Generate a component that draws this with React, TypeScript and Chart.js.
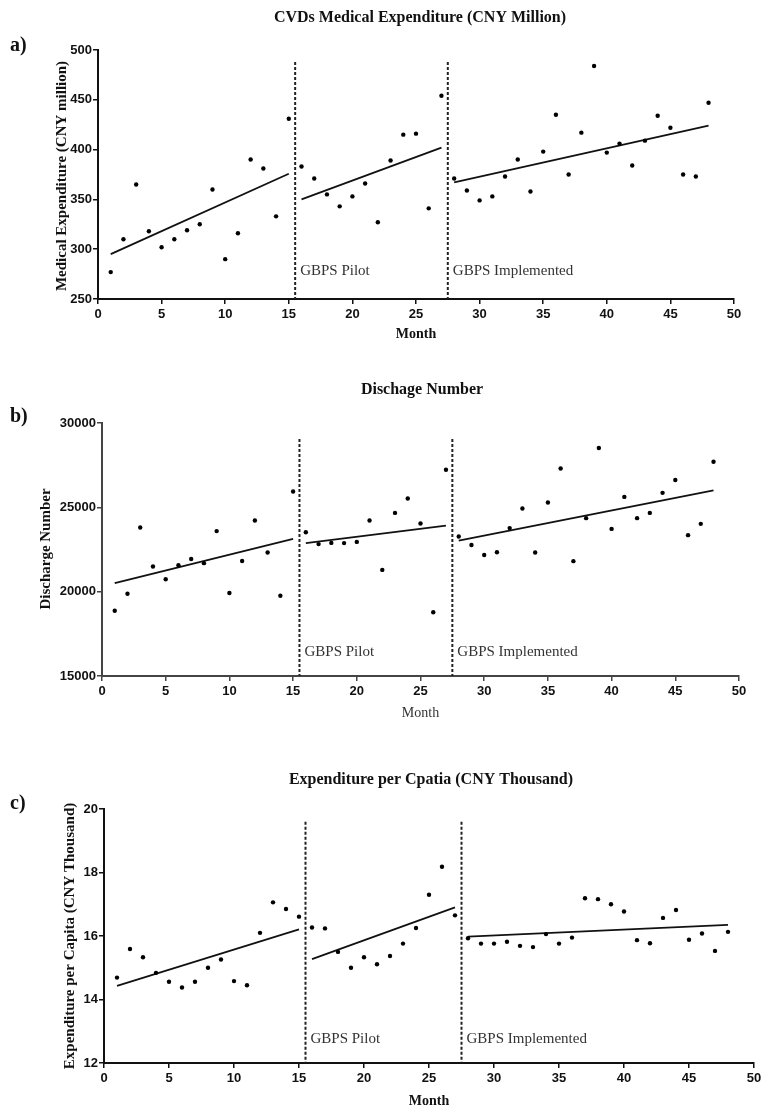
import React, { useEffect, useRef } from "react";
import { Chart, registerables } from "chart.js";

Chart.register(...registerables);

// ---------------- data ----------------
const months = [
  1, 2, 3, 4, 5, 6, 7, 8, 9, 10, 11, 12, 13, 14, 15, 16, 17, 18, 19, 20, 21, 22, 23, 24,
  25, 26, 27, 28, 29, 30, 31, 32, 33, 34, 35, 36, 37, 38, 39, 40, 41, 42, 43, 44, 45, 46, 47, 48,
];

const medicalExpenditure = [
  277, 310, 365, 318, 302, 310, 319, 325, 360, 290, 316, 390, 381, 333, 431, 383,
  371, 355, 343, 353, 366, 327, 389, 415, 416, 341, 454, 371, 359, 349, 353, 373,
  390, 358, 398, 435, 375, 417, 484, 397, 406, 384, 409, 434, 422, 375, 373, 447,
];

const dischargeNumber = [
  18870, 19880, 23800, 21490, 20740, 21570, 21940, 21690, 23590, 19920, 21820, 24220,
  22320, 19760, 25940, 23520, 22820, 22890, 22880, 22950, 24220, 21290, 24670, 25520,
  24040, 18780, 27230, 23270, 22770, 22170, 22340, 23770, 24930, 22320, 25290, 27300,
  21810, 24360, 28520, 23720, 25620, 24360, 24670, 25860, 26620, 23350, 24020, 27700,
];

const expenditurePerCapita = [
  14.69, 15.59, 15.33, 14.84, 14.56, 14.38, 14.56, 15.0, 15.26, 14.58, 14.45, 16.1,
  17.06, 16.85, 16.61, 16.27, 16.24, 15.5, 15.0, 15.33, 15.11, 15.37, 15.76, 16.25,
  17.3, 18.18, 16.65, 15.93, 15.76, 15.76, 15.82, 15.69, 15.65, 16.06, 15.76, 15.95,
  17.19, 17.16, 17.0, 16.77, 15.87, 15.77, 16.57, 16.82, 15.88, 16.08, 15.53, 16.13,
];

// fitted segment end months (pre-pilot, pilot, implemented)
const fitStartMonths = [1, 16, 28];
const fitEndMonths = [15, 27, 48];
const medicalFitStart = [295, 350, 367];
const medicalFitEnd = [375.7, 402, 424];
const dischargeFitStart = [20500, 22875, 23030];
const dischargeFitEnd = [23130, 23920, 26000];
const perCapitaFitStart = [14.43, 15.27, 15.98];
const perCapitaFitEnd = [16.21, 16.9, 16.35];

const interventionMonths = [15.5, 27.5];
const interventionLabels = ["GBPS Pilot", "GBPS Implemented"];

const xRange = [0, 50];
const xStep = 5;
const medicalRange = [250, 500];
const medicalStep = 50;
const dischargeRange = [15000, 30000];
const dischargeStep = 5000;
const perCapitaRange = [12, 20];
const perCapitaStep = 2;

// ---------------- layout (page coordinates) ----------------
type PanelCfg = {
  top: number;
  height: number;
  plotTop: number;
  plotBottom: number;
  plotLeft: number;
  plotRight: number;
  values: number[];
  fitStart: number[];
  fitEnd: number[];
  yRange: number[];
  yStep: number;
  dashTop: number;
  title: string;
  titleX: number;
  titleY: number;
  letter: string;
  letterY: number;
  yTitle: string;
  yTitleX: number;
  yTitleY: number;
  xTitleY: number;
  xTitleBold: boolean;
  gbpsY: number;
  axisColor: string;
};

const panels: PanelCfg[] = [
  {
    top: 0, height: 345, plotTop: 50, plotBottom: 299, plotLeft: 98, plotRight: 734,
    values: medicalExpenditure, fitStart: medicalFitStart, fitEnd: medicalFitEnd,
    yRange: medicalRange, yStep: medicalStep, dashTop: 488,
    title: "CVDs Medical Expenditure (CNY Million)", titleX: 420, titleY: 18,
    letter: "a)", letterY: 46,
    yTitle: "Medical Expenditure (CNY million)", yTitleX: 62, yTitleY: 176,
    xTitleY: 334, xTitleBold: true, gbpsY: 271, axisColor: "#111",
  },
  {
    top: 355, height: 365, plotTop: 423, plotBottom: 676, plotLeft: 102, plotRight: 739,
    values: dischargeNumber, fitStart: dischargeFitStart, fitEnd: dischargeFitEnd,
    yRange: dischargeRange, yStep: dischargeStep, dashTop: 29050,
    title: "Dischage Number", titleX: 422, titleY: 390,
    letter: "b)", letterY: 417,
    yTitle: "Discharge Number", yTitleX: 46, yTitleY: 549,
    xTitleY: 713, xTitleBold: false, gbpsY: 652, axisColor: "#444",
  },
  {
    top: 760, height: 354, plotTop: 809, plotBottom: 1063, plotLeft: 104, plotRight: 754,
    values: expenditurePerCapita, fitStart: perCapitaFitStart, fitEnd: perCapitaFitEnd,
    yRange: perCapitaRange, yStep: perCapitaStep, dashTop: 19.6,
    title: "Expenditure per Cpatia (CNY Thousand)", titleX: 431, titleY: 780,
    letter: "c)", letterY: 804,
    yTitle: "Expenditure per Capita (CNY Thousand)", yTitleX: 70, yTitleY: 936,
    xTitleY: 1101, xTitleBold: true, gbpsY: 1039, axisColor: "#111",
  },
];

const SERIF = '"Liberation Serif", "DejaVu Serif", serif';
const SANS = '"Liberation Sans", Arial, sans-serif';

function makeTextPlugin(p: PanelCfg) {
  return {
    id: "panelText",
    afterDraw(chart: any) {
      const ctx = chart.ctx as CanvasRenderingContext2D;
      const off = p.top;
      const xs = chart.scales.x;
      ctx.save();
      ctx.textBaseline = "middle";
      ctx.fillStyle = "#111";
      // title
      ctx.textAlign = "center";
      ctx.font = `bold 16px ${SERIF}`;
      ctx.fillText(p.title, p.titleX, p.titleY - off);
      // panel letter
      ctx.textAlign = "left";
      ctx.font = `bold 20px ${SERIF}`;
      ctx.fillText(p.letter, 10, p.letterY - off);
      // x title
      ctx.textAlign = "center";
      ctx.font = `${p.xTitleBold ? "bold " : ""}14px ${SERIF}`;
      ctx.fillStyle = p.xTitleBold ? "#111" : "#333";
      ctx.fillText("Month", (p.plotLeft + p.plotRight) / 2, p.xTitleY - off);
      // y title
      ctx.fillStyle = "#111";
      ctx.save();
      ctx.translate(p.yTitleX, p.yTitleY - off);
      ctx.rotate(-Math.PI / 2);
      ctx.font = `bold 15px ${SERIF}`;
      ctx.fillText(p.yTitle, 0, 0);
      ctx.restore();
      // intervention labels
      ctx.textAlign = "left";
      ctx.font = `15px ${SERIF}`;
      ctx.fillStyle = "#333";
      interventionMonths.forEach((m, i) => {
        ctx.fillText(interventionLabels[i], xs.getPixelForValue(m) + 5, p.gbpsY - off);
      });
      ctx.restore();
    },
  };
}

function Panel({ cfg }: { cfg: PanelCfg }) {
  const ref = useRef<HTMLCanvasElement | null>(null);
  useEffect(() => {
    if (!ref.current) return;
    const p = cfg;
    const fitSets = fitStartMonths.map((s, i) => ({
      data: [
        { x: s, y: p.fitStart[i] },
        { x: fitEndMonths[i], y: p.fitEnd[i] },
      ],
      showLine: true,
      borderColor: "#111",
      borderWidth: 1.8,
      pointRadius: 0,
    }));
    const dashSets = interventionMonths.map((m) => ({
      data: [
        { x: m, y: p.dashTop },
        { x: m, y: p.yRange[0] },
      ],
      showLine: true,
      borderColor: "#222",
      borderWidth: 2,
      borderDash: [3, 2],
      pointRadius: 0,
    }));
    const tickFont = { family: SANS, size: 13, weight: "bold" as const };
    const chart = new Chart(ref.current, {
      type: "scatter",
      data: {
        datasets: [
          {
            data: months.map((m, i) => ({ x: m, y: p.values[i] })),
            pointRadius: 2.2,
            pointBackgroundColor: "#000",
            pointBorderWidth: 0,
            showLine: false,
          },
          ...fitSets,
          ...dashSets,
        ] as any,
      },
      options: {
        animation: false,
        responsive: false,
        events: [],
        layout: {
          padding: {
            top: p.plotTop - p.top,
            left: 0,
            right: 773 - p.plotRight,
            bottom: 0,
          },
        },
        plugins: {
          legend: { display: false },
          tooltip: { enabled: false },
          title: { display: false },
        },
        scales: {
          x: {
            type: "linear",
            min: xRange[0],
            max: xRange[1],
            ticks: {
              stepSize: xStep,
              font: tickFont,
              color: "#111",
              padding: 3,
              maxRotation: 0,
              callback: (v: any) => String(v),
            },
            grid: {
              drawOnChartArea: false,
              drawTicks: true,
              tickLength: 5,
              color: p.axisColor,
              lineWidth: 1.5,
            },
            border: { display: true, color: p.axisColor, width: 2 },
            afterFit: (s: any) => {
              s.height = p.height - (p.plotBottom - p.top);
              s.paddingLeft = 0;
              s.paddingRight = 0;
            },
          },
          y: {
            type: "linear",
            min: p.yRange[0],
            max: p.yRange[1],
            ticks: {
              stepSize: p.yStep,
              font: tickFont,
              color: "#111",
              padding: 1,
              callback: (v: any) => String(v),
            },
            grid: {
              drawOnChartArea: false,
              drawTicks: true,
              tickLength: 5,
              color: p.axisColor,
              lineWidth: 1.5,
            },
            border: { display: true, color: p.axisColor, width: 2 },
            afterFit: (s: any) => {
              s.width = p.plotLeft;
              s.paddingTop = 0;
              s.paddingBottom = 0;
            },
          },
        },
      } as any,
      plugins: [makeTextPlugin(p)],
    });
    return () => chart.destroy();
  }, [cfg]);
  return (
    <div style={{ position: "absolute", left: 0, top: cfg.top, width: 773, height: cfg.height }}>
      <canvas ref={ref} width={773} height={cfg.height} style={{ width: 773, height: cfg.height, display: "block" }} />
    </div>
  );
}

export default function App() {
  return (
    <div style={{ position: "absolute", left: 0, top: 0, width: 773, height: 1114, background: "#fff" }}>
      {panels.map((p, i) => (
        <Panel key={i} cfg={p} />
      ))}
    </div>
  );
}
